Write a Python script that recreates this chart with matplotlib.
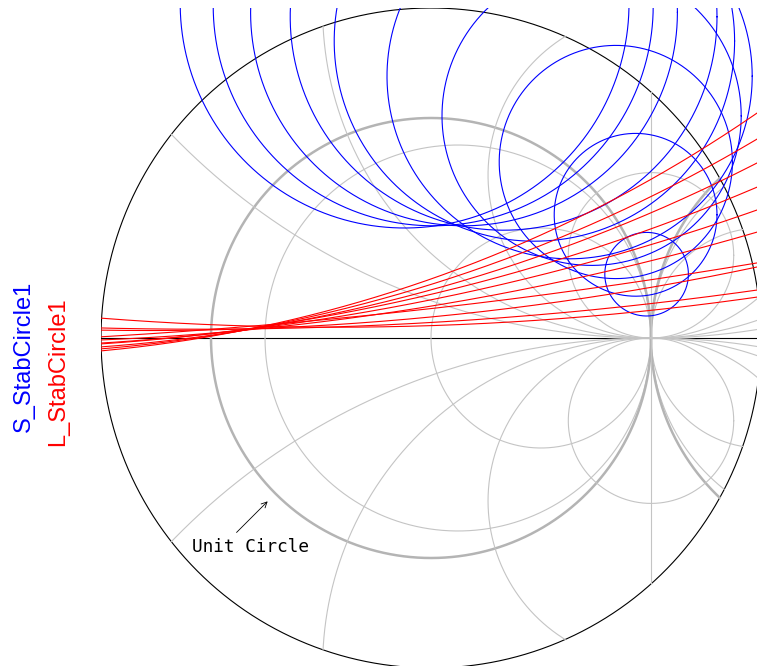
import numpy as np
import matplotlib
matplotlib.use("Agg")
import matplotlib.pyplot as plt

# Smith chart drawn out to |gamma| = 1.5
CHART_R = 1.5

# grid: normalised resistance circles and reactance arcs
RES_THICK = [0.0, -2.0]
RES_THIN = [0.14, 1.0, -2.14, -3.0]
REACT = [0.33, 0.67, 1.35, 2.66]

# source stability circles (centre re, centre im, radius) over the sweep
S_CX = [0.98, 0.93, 0.84, 0.73, 0.63, 0.47, 0.33, 0.15, 0.01, -0.12]
S_CY = [0.29, 0.56, 0.80, 1.01, 1.19, 1.35, 1.46, 1.48, 1.51, 1.52]
S_RAD = [0.19, 0.37, 0.53, 0.68, 0.83, 0.91, 0.97, 0.97, 1.00, 1.02]

# load stability circles (very large radius, show up as near-straight arcs)
L_CX = [-2.0725, -2.0788, -2.0707, -2.1033, -2.1796, -2.0253, -3.126, -1.2817, -1.0512, -0.442]
L_CY = [6.174, 6.900, 7.731, 9.094, 10.980, 12.499, 27.853, 13.402, 18.159, 13.633]
L_RAD = [6.2588, 6.9735, 7.7924, 9.1408, 11.024, 12.519, 27.895, 13.368, 18.119, 13.584]

GRID_THIN = "#c4c4c4"
GRID_THICK = "#b4b4b4"
LABEL_FONT = ["Liberation Sans", "DejaVu Sans"]


def circle_pts(cx, cy, rad, n=4000):
    t = np.linspace(0, 2 * np.pi, n)
    return cx + rad * np.cos(t), cy + rad * np.sin(t)


def clip_to_chart(x, y):
    x = x.copy()
    y = y.copy()
    out = np.hypot(x, y) > CHART_R + 1e-9
    x[out] = np.nan
    y[out] = np.nan
    return x, y


def res_circle(r):
    return r / (1 + r), 1 / abs(1 + r)


fig = plt.figure(figsize=(7.57, 6.66), dpi=100)
ax = fig.add_axes([101 / 757, -2 / 666, 660 / 757, 660 / 666])
ax.set_xlim(-CHART_R, CHART_R)
ax.set_ylim(-CHART_R, CHART_R)
ax.axis("off")

# outer boundary and real axis
bx, by = circle_pts(0, 0, CHART_R)
ax.plot(bx, by, color="black", lw=0.8, zorder=1)
ax.plot([-CHART_R, CHART_R], [0, 0], color="black", lw=0.8, zorder=1)

# constant resistance circles
for r in RES_THIN:
    c, rad = res_circle(r)
    x, y = clip_to_chart(*circle_pts(c, 0, rad))
    ax.plot(x, y, color=GRID_THIN, lw=0.8, zorder=2)
for r in RES_THICK:
    c, rad = res_circle(r)
    x, y = clip_to_chart(*circle_pts(c, 0, rad))
    ax.plot(x, y, color=GRID_THICK, lw=1.8, zorder=2)

# r = -1 degenerates to the line Re = 1
h = np.sqrt(CHART_R ** 2 - 1)
ax.plot([1, 1], [-h, h], color=GRID_THIN, lw=0.8, zorder=2)

# constant reactance arcs
for xv in REACT:
    k = 1 / xv
    for sgn in (1, -1):
        x, y = clip_to_chart(*circle_pts(1, sgn * k, k, n=8000))
        ax.plot(x, y, color=GRID_THIN, lw=0.8, zorder=2)

# stability circles
for cx, cy, rad in zip(S_CX, S_CY, S_RAD):
    x, y = circle_pts(cx, cy, rad)
    ax.plot(x, y, color="blue", lw=0.8, zorder=3)
for cx, cy, rad in zip(L_CX, L_CY, L_RAD):
    x, y = circle_pts(cx, cy, rad, n=60000)
    ax.plot(x, y, color="red", lw=0.8, zorder=4)

# unit circle callout
ang = np.deg2rad(225)
ax.annotate("", xy=(1.05 * np.cos(ang), 1.05 * np.sin(ang)),
            xytext=(1.25 * np.cos(ang), 1.25 * np.sin(ang)),
            arrowprops=dict(arrowstyle="->", color="black", lw=0.6,
                            shrinkA=0, shrinkB=0), zorder=5)
ax.text(-1.086, -0.973, "Unit Circle", family="DejaVu Sans Mono",
        fontsize=12.8, ha="left", va="baseline", zorder=5)

# rotated trace names
fig.text(24 / 757, 1 - 432 / 666, "S_StabCircle1", rotation=90, color="blue",
         ha="center", va="bottom", fontsize=17, family=LABEL_FONT)
fig.text(58 / 757, 1 - 446 / 666, "L_StabCircle1", rotation=90, color="red",
         ha="center", va="bottom", fontsize=17, family=LABEL_FONT)

fig.savefig("out.png", dpi=100)
